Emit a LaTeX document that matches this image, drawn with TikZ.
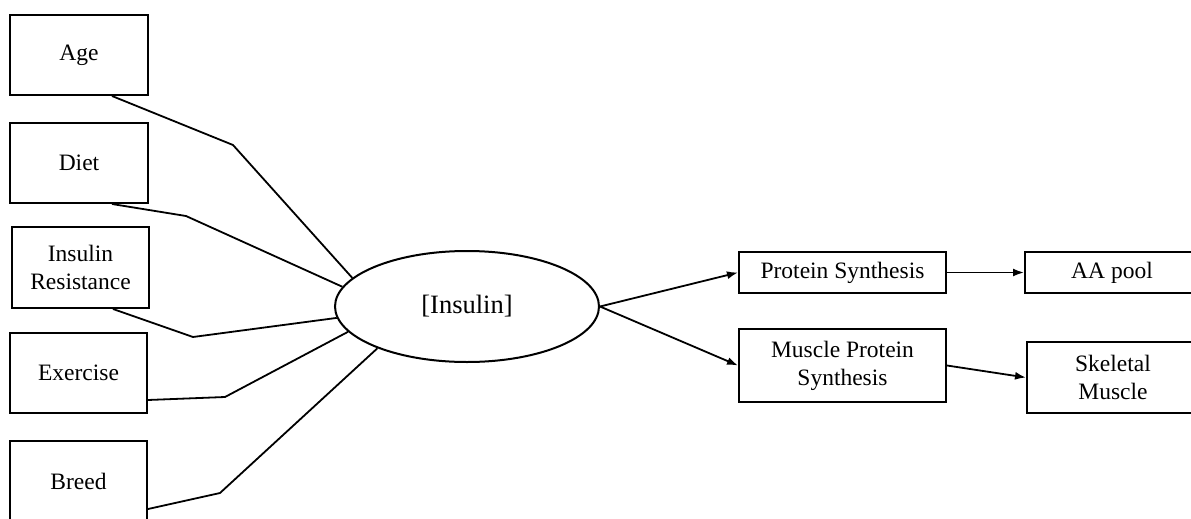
\documentclass[tikz,border=0pt]{standalone}
\usepackage{fontspec}
\setmainfont{Liberation Serif}
\usetikzlibrary{shapes.geometric,arrows.meta}
\begin{document}
\begin{tikzpicture}[x=1pt,y=-1pt,
  box/.style={draw,line width=2pt,rectangle,inner sep=0pt,align=center,font=\fontsize{23.5}{28}\selectfont},
  conn/.style={line width=1.8pt,line join=round},
  arr/.style={line width=1.8pt,-{Latex[length=11pt,width=8pt]}}]
\useasboundingbox (0,0) rectangle (1191,519);
\clip (0,0) rectangle (1191,519);
\node[box,minimum width=138pt,minimum height=80pt] (age) at (79,55) {Age};
\node[box,minimum width=138pt,minimum height=80pt] (diet) at (79,163) {Diet};
\node[box,minimum width=137pt,minimum height=81pt] (ir) at (80.5,267.5) {Insulin\\Resistance};
\node[box,minimum width=137pt,minimum height=80pt] (ex) at (78.5,373) {Exercise};
\node[box,minimum width=137pt,minimum height=80pt] (breed) at (78.5,481) {Breed};
\node[draw,line width=2pt,ellipse,inner sep=0pt,minimum width=264pt,minimum height=111pt,font=\fontsize{26.5}{30}\selectfont] (ins) at (467,306.5) {[Insulin]};
\node[box,minimum width=207pt,minimum height=41pt] (ps) at (842.5,272.5) {Protein Synthesis};
\node[box,minimum width=207pt,minimum height=73pt] (mps) at (842.5,365.5) {Muscle Protein\\Synthesis};
\node[box,minimum width=174pt,minimum height=41pt] (aa) at (1112,272.5) {AA pool};
\node[box,minimum width=172pt,minimum height=71pt] (skel) at (1113,377.5) {Skeletal\\Muscle};
\coordinate (bage) at (233,145);
\coordinate (bdiet) at (186,216);
\coordinate (bir) at (193,337);
\coordinate (bex) at (225,397);
\coordinate (bbreed) at (220,493);
\draw[conn] ([xshift=33pt]age.south) -- (bage) -- (ins.166.7);
\draw[conn] ([xshift=33pt]diet.south) -- (bdiet) -- (ins.171.7);
\draw[conn] ([xshift=32.5pt]ir.south) -- (bir) -- (ins.185.9);
\draw[conn] ([yshift=-27pt]ex.east) -- (bex) -- (ins.192.5);
\draw[conn] ([yshift=-28pt]breed.east) -- (bbreed) -- (ins.205.3);
\draw[arr] (ins.east) -- (ps.west);
\draw[arr] (ins.east) -- (mps.west);
\draw[arr] (ps.east) -- (aa.west);
\draw[arr] (mps.east) -- (skel.west);
\end{tikzpicture}
\end{document}
